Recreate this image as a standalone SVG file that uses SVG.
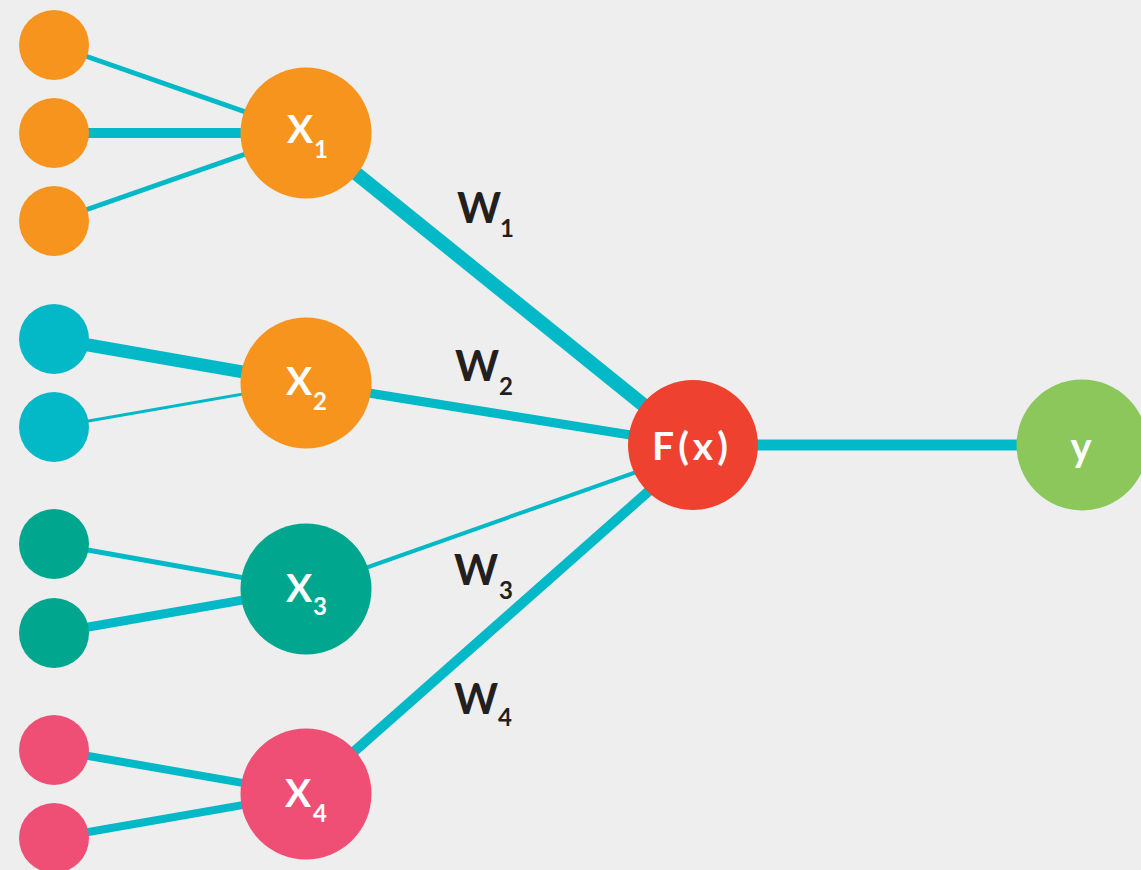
<svg xmlns="http://www.w3.org/2000/svg" width="1141" height="870" viewBox="0 0 1141 870">
<style>
.c{stroke:#04b9c7;fill:none}
.lbl{font-family:Lato,"Open Sans",sans-serif;font-weight:700;fill:#ffffff}
.w{font-family:Lato,"Open Sans",sans-serif;font-weight:700;fill:#231f20}
.or{fill:#f7941d}.tl{fill:#04b9c7}.gr{fill:#00a78e}.pk{fill:#f04f75}.rd{fill:#ef4130}.lg{fill:#8bc75a}
</style>
<rect width="1141" height="870" fill="#eeeeee"/>
<g id="connectors">
<line class="c" x1="54" y1="45" x2="306" y2="133" stroke-width="5"/>
<line class="c" x1="54" y1="133" x2="306" y2="133" stroke-width="10"/>
<line class="c" x1="54" y1="221" x2="306" y2="133" stroke-width="5"/>
<line class="c" x1="54" y1="339" x2="306" y2="383" stroke-width="13"/>
<line class="c" x1="54" y1="427" x2="306" y2="383" stroke-width="3"/>
<line class="c" x1="54" y1="544" x2="306" y2="589" stroke-width="5"/>
<line class="c" x1="54" y1="633" x2="306" y2="589" stroke-width="9"/>
<line class="c" x1="54" y1="750" x2="306" y2="794" stroke-width="8"/>
<line class="c" x1="54" y1="838" x2="306" y2="794" stroke-width="8"/>
<line class="c" x1="306" y1="133" x2="693" y2="445" stroke-width="14"/>
<line class="c" x1="306" y1="383" x2="693" y2="445" stroke-width="9"/>
<line class="c" x1="306" y1="589" x2="693" y2="452" stroke-width="4"/>
<line class="c" x1="306" y1="794" x2="693" y2="452" stroke-width="10"/>
<line class="c" x1="693" y1="445" x2="1082" y2="445" stroke-width="11"/>
</g>
<g id="in1a"><circle class="or" cx="54" cy="45" r="35"/></g>
<g id="in1b"><circle class="or" cx="54" cy="133" r="35"/></g>
<g id="in1c"><circle class="or" cx="54" cy="221" r="35"/></g>
<g id="in2a"><circle class="tl" cx="54" cy="339" r="35"/></g>
<g id="in2b"><circle class="tl" cx="54" cy="427" r="35"/></g>
<g id="in3a"><circle class="gr" cx="54" cy="544" r="35"/></g>
<g id="in3b"><circle class="gr" cx="54" cy="633" r="35"/></g>
<g id="in4a"><circle class="pk" cx="54" cy="750" r="35"/></g>
<g id="in4b"><circle class="pk" cx="54" cy="838" r="35"/></g>
<g id="x1"><circle class="or" cx="306" cy="133" r="65.5"/>
<text class="lbl" font-size="39" x="287" y="143">X</text><text class="lbl" font-size="24" x="314" y="158">1</text></g>
<g id="x2"><circle class="or" cx="306" cy="383" r="65.5"/>
<text class="lbl" font-size="39" x="286" y="395">X</text><text class="lbl" font-size="24" x="313" y="410">2</text></g>
<g id="x3"><circle class="gr" cx="306" cy="589" r="65.5"/>
<text class="lbl" font-size="39" x="286" y="602">X</text><text class="lbl" font-size="24" x="313" y="615">3</text></g>
<g id="x4"><circle class="pk" cx="306" cy="794" r="65.5"/>
<text class="lbl" font-size="39" x="285" y="807">X</text><text class="lbl" font-size="24" x="313" y="822">4</text></g>
<g id="f"><circle class="rd" cx="693" cy="445" r="65"/>
<text class="lbl" font-size="39" x="692" y="460" text-anchor="middle" letter-spacing="4">F(x)</text></g>
<g id="y"><circle class="lg" cx="1082" cy="445" r="65.5"/>
<text class="lbl" font-size="40" x="1081" y="461" text-anchor="middle">y</text></g>
<g id="labels">
<text class="w" font-size="42" x="457" y="223">W</text><text class="w" font-size="24" x="500" y="237">1</text>
<text class="w" font-size="42" x="455" y="381">W</text><text class="w" font-size="24" x="499" y="395">2</text>
<text class="w" font-size="42" x="454" y="585">W</text><text class="w" font-size="24" x="499" y="599">3</text>
<text class="w" font-size="42" x="454" y="714">W</text><text class="w" font-size="24" x="498" y="726">4</text>
</g>
</svg>
